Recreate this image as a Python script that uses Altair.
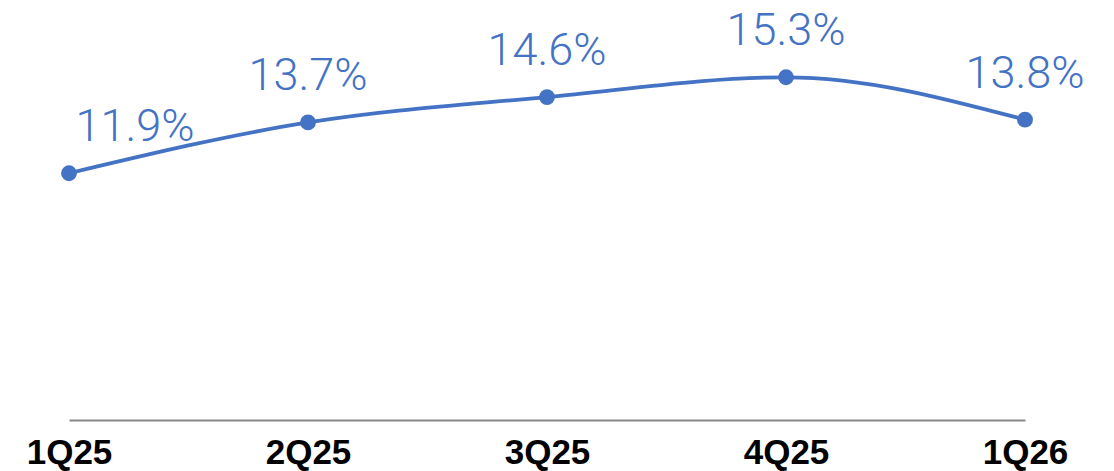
import altair as alt
import pandas as pd

quarters = ["1Q25", "2Q25", "3Q25", "4Q25", "1Q26"]
values = [11.9, 13.7, 14.6, 15.3, 13.8]
labels = ["11.9%", "13.7%", "14.6%", "15.3%", "13.8%"]

df = pd.DataFrame({"q": quarters, "v": values, "lab": labels, "i": list(range(len(quarters)))})

BLUE = "#4472C4"

x = alt.X("q:N", sort=quarters, title=None,
          scale=alt.Scale(type="point", padding=0),
          axis=alt.Axis(labelAngle=0, labelFont="Liberation Sans", labelFontWeight="bold",
                        labelFontSize=35, labelColor="#000000", labelPadding=15,
                        domainColor="#888888", domainWidth=2, ticks=False, grid=False))
y = alt.Y("v:Q", title=None, scale=alt.Scale(domain=[3.16, 17.577], zero=False, nice=False), axis=None)

base = alt.Chart(df)

line = base.mark_line(color=BLUE, strokeWidth=3.8, interpolate="monotone").encode(x=x, y=y)
pts = base.mark_point(filled=True, opacity=1, color=BLUE, size=250).encode(x=x, y=y)

txt_first = base.transform_filter("datum.i == 0").mark_text(
    font="Roboto", fontWeight=300, fontSize=45, color=BLUE, align="center",
    baseline="alphabetic", dy=-32, dx=66).encode(x=x, y=y, text="lab:N")
txt_rest = base.transform_filter("datum.i > 0").mark_text(
    font="Roboto", fontWeight=300, fontSize=45, color=BLUE, align="center",
    baseline="alphabetic", dy=-32).encode(x=x, y=y, text="lab:N")

chart = alt.layer(line, pts, txt_first, txt_rest).properties(
    width=956, height=407,
    autosize=alt.AutoSizeParams(type="none"),
    padding={"left": 61, "top": 5, "right": 81, "bottom": 51},
    background="white",
).configure_view(strokeWidth=0, stroke="transparent")

chart.save("out.html", embed_options={"renderer": "svg", "actions": False})
